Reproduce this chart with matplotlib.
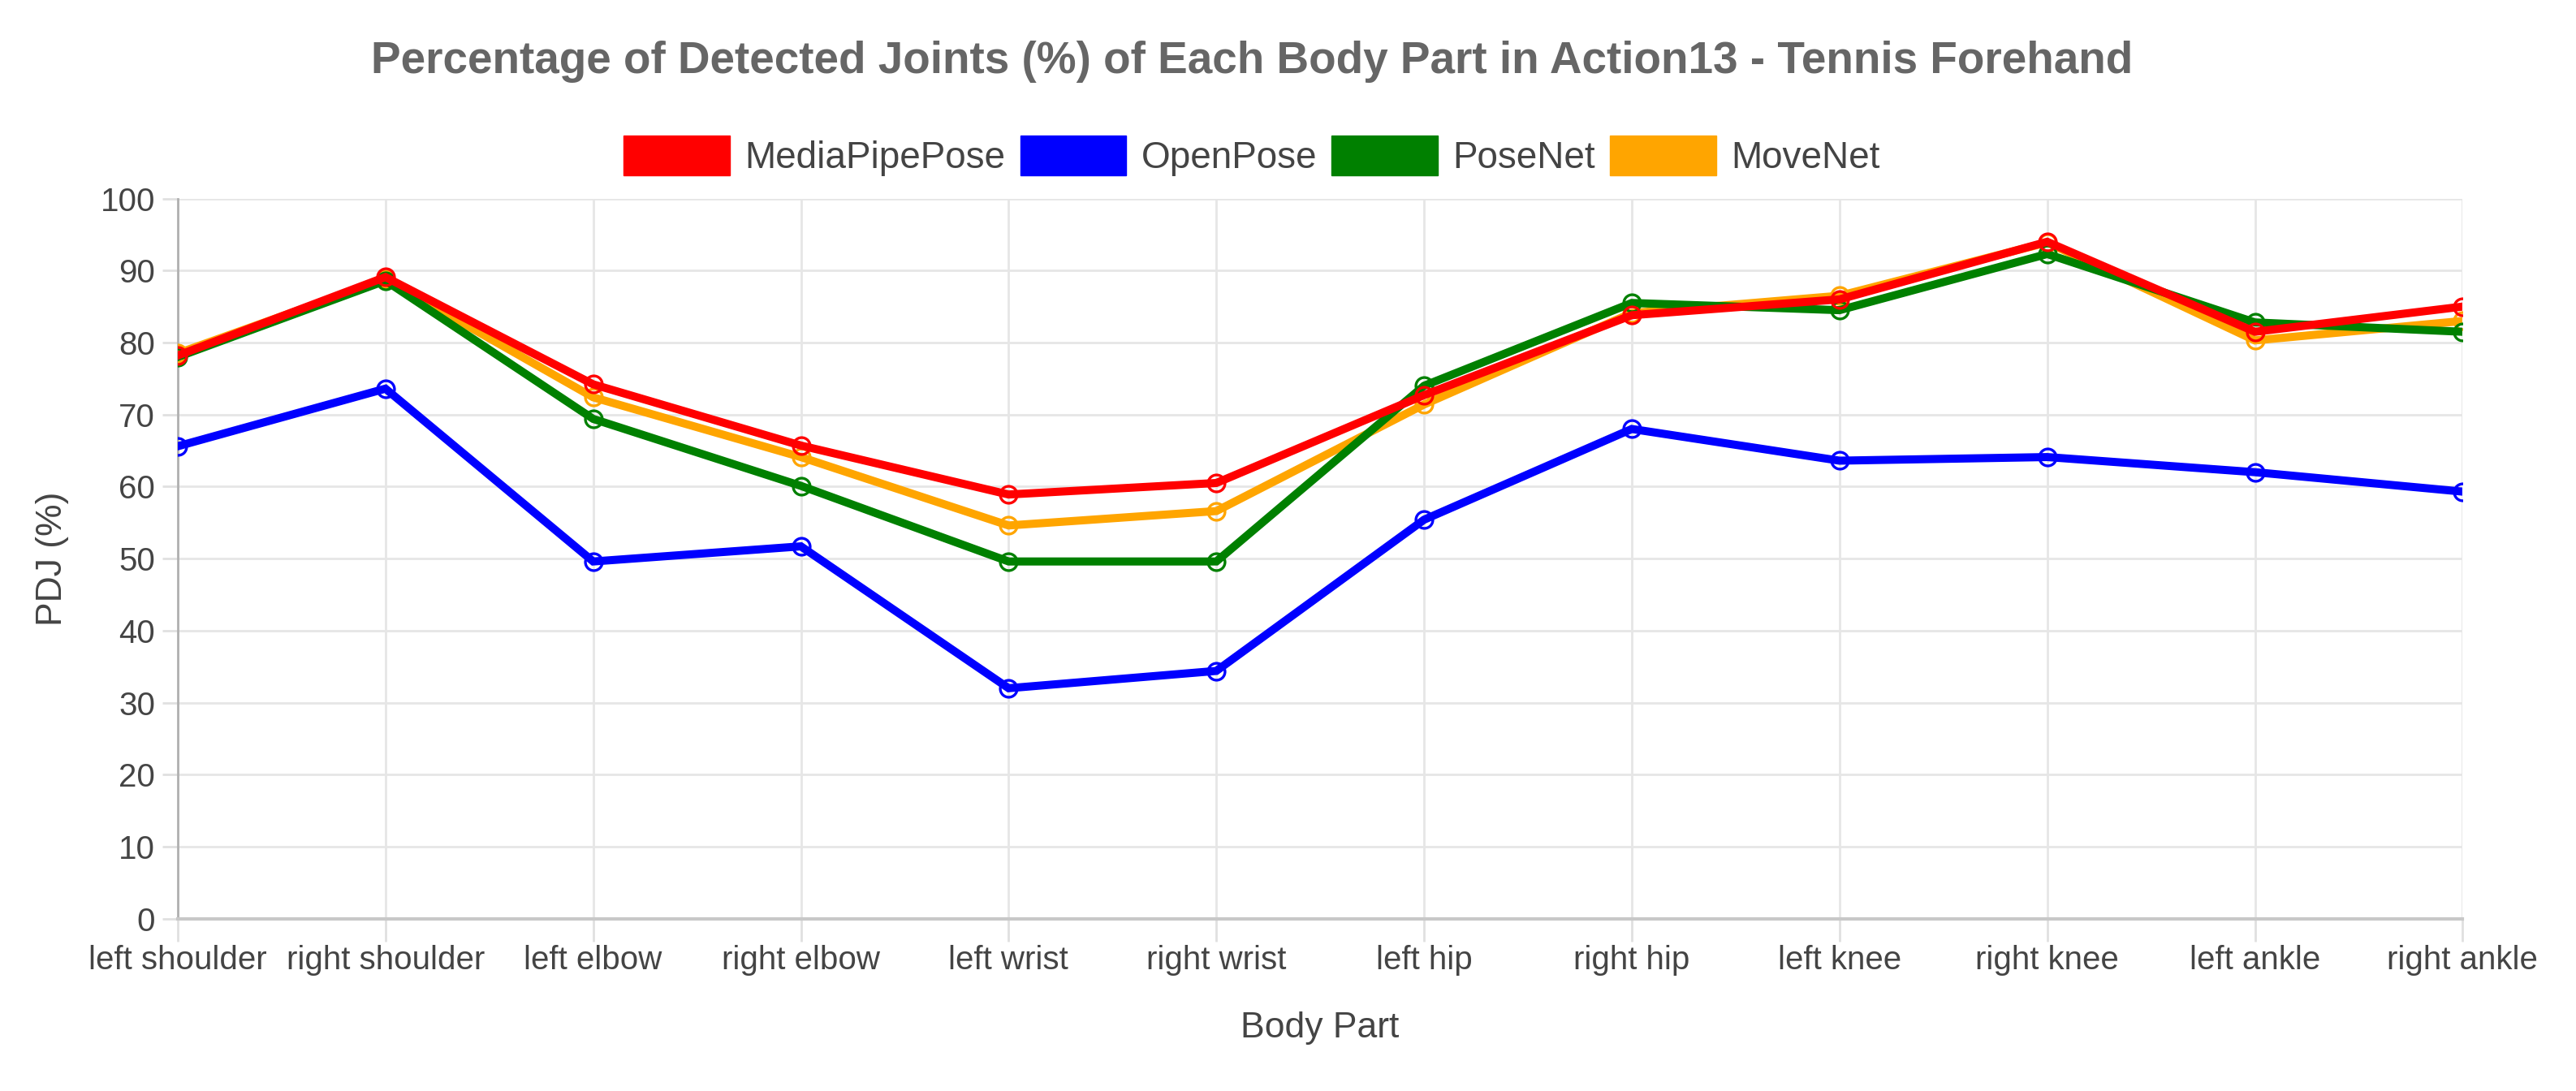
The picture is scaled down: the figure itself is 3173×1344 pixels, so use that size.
import matplotlib
matplotlib.use("Agg")
import matplotlib.pyplot as plt
from matplotlib.patches import Patch

categories = ["left shoulder", "right shoulder", "left elbow", "right elbow",
              "left wrist", "right wrist", "left hip", "right hip",
              "left knee", "right knee", "left ankle", "right ankle"]

mediapipe = [78.2, 89.1, 74.2, 65.7, 58.9, 60.5, 72.7, 83.8, 86.0, 94.0, 81.5, 85.0]
openpose  = [65.6, 73.6, 49.6, 51.7, 32.0, 34.4, 55.4, 68.0, 63.6, 64.1, 62.0, 59.3]
posenet   = [78.0, 88.6, 69.4, 60.1, 49.6, 49.6, 74.0, 85.5, 84.5, 92.3, 82.8, 81.5]
movenet   = [78.5, 88.8, 72.4, 64.1, 54.6, 56.6, 71.4, 84.1, 86.5, 93.9, 80.3, 83.0]

series = [("MediaPipePose", mediapipe, "red"),
          ("OpenPose", openpose, "blue"),
          ("PoseNet", posenet, "green"),
          ("MoveNet", movenet, "orange")]

plt.rcParams['font.family'] = ['Liberation Sans', 'DejaVu Sans']
txt = '#444444'

fig = plt.figure(figsize=(31.73, 13.44), dpi=100)
ax = fig.add_axes([0.069, 0.158, 0.887, 0.660])

x = list(range(len(categories)))
for name, vals, col in reversed(series):
    ax.plot(x, vals, color=col, lw=7.2, marker='o', markersize=15,
            markerfacecolor='none', markeredgecolor=col, markeredgewidth=2.4,
            solid_joinstyle='miter', zorder=3)

ax.set_xlim(0, len(categories) - 1)
ax.set_ylim(0, 100)
ax.set_yticks(range(0, 101, 10))
ax.set_xticks(x)
ax.set_xticklabels(categories)
ax.grid(True, color='#e6e6e6', lw=2)
ax.set_axisbelow(True)
for s in ['top', 'right']:
    ax.spines[s].set_visible(False)
ax.spines['left'].set_color('#b0b0b0')
ax.spines['left'].set_linewidth(2)
ax.spines['bottom'].set_color('#c8c8c8')
ax.spines['bottom'].set_linewidth(3)
ax.tick_params(axis='both', labelsize=29, width=2, color='#e0e0e0')
ax.tick_params(axis='x', length=20, pad=3)
ax.tick_params(axis='y', length=14, pad=6)
for lbl in ax.get_xticklabels() + ax.get_yticklabels():
    lbl.set_color(txt)

ax.set_xlabel("Body Part", fontsize=32, color=txt, labelpad=32)
ax.set_ylabel("PDJ (%)", fontsize=32, color=txt, labelpad=28)

fig.suptitle("Percentage of Detected Joints (%) of Each Body Part in Action13 - Tennis Forehand",
             fontsize=39.5, fontweight='bold', color='#666666', x=0.486, y=0.963)

handles = [Patch(facecolor=col, edgecolor=col) for _, _, col in series]
labels = [n for n, _, _ in series]
fig.legend(handles, labels, loc='center', bbox_to_anchor=(0.486, 0.857), ncol=4,
           frameon=False, fontsize=33, handlelength=2.85, handleheight=1.25,
           handletextpad=0.4, columnspacing=0.4, labelcolor=txt)

fig.savefig("out.png", dpi=100, facecolor='white')
